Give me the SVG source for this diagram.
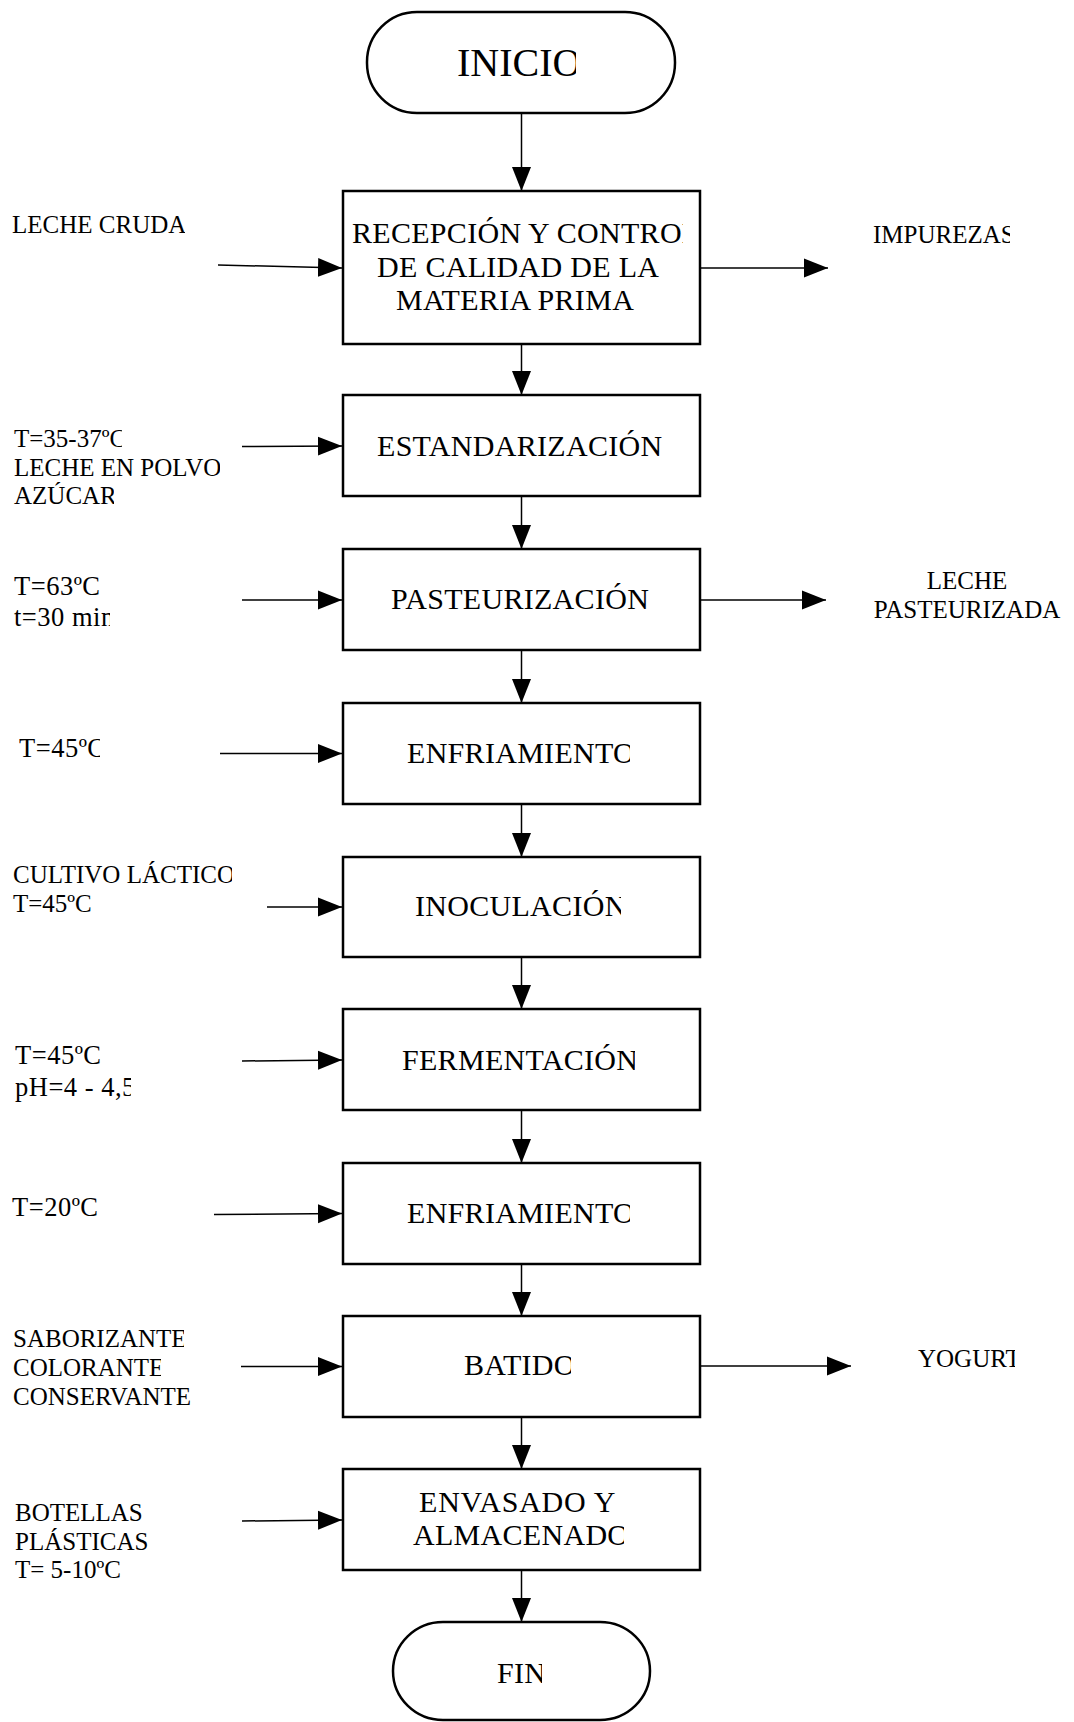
<svg xmlns="http://www.w3.org/2000/svg" width="1074" height="1722" viewBox="0 0 1074 1722">
<style>
.box{fill:#fff;stroke:#000;stroke-width:2.5}
.term{fill:#fff;stroke:#000;stroke-width:2.5}
.c{fill:none;stroke:#000;stroke-width:1.5;marker-end:url(#ah)}
.bt{font-family:"Liberation Serif","Times New Roman",serif;font-size:30px;letter-spacing:0.3px;fill:#000}
.lt{font-family:"Liberation Serif","Times New Roman",serif;font-size:25px;fill:#000}
.lg{font-family:"Liberation Serif","Times New Roman",serif;font-size:26.5px;letter-spacing:0.5px;fill:#000}
</style>
<defs>
<marker id="ah" markerUnits="userSpaceOnUse" markerWidth="24" markerHeight="20" refX="24" refY="10" orient="auto">
<path d="M0,0.5 L24,10 L0,19.5 z" fill="#000"/>
</marker>
<clipPath id="k1"><rect x="0" y="0" width="576" height="120"/></clipPath>
<clipPath id="k2"><rect x="343" y="191" width="340" height="60"/></clipPath>
<clipPath id="k3"><rect x="800" y="200" width="210" height="60"/></clipPath>
<clipPath id="k4"><rect x="0" y="200" width="185" height="50"/></clipPath>
<clipPath id="k5"><rect x="0" y="420" width="122" height="32"/></clipPath>
<clipPath id="k6"><rect x="0" y="452" width="220" height="30"/></clipPath>
<clipPath id="k7"><rect x="0" y="482" width="114" height="30"/></clipPath>
<clipPath id="k8"><rect x="0" y="605" width="110" height="30"/></clipPath>
<clipPath id="k9"><rect x="343" y="549" width="306" height="101"/></clipPath>
<clipPath id="k10"><rect x="0" y="730" width="100" height="40"/></clipPath>
<clipPath id="k11"><rect x="343" y="703" width="287" height="101"/></clipPath>
<clipPath id="k12"><rect x="0" y="860" width="232" height="30"/></clipPath>
<clipPath id="k13"><rect x="343" y="857" width="278" height="100"/></clipPath>
<clipPath id="k14"><rect x="0" y="1072" width="131" height="40"/></clipPath>
<clipPath id="k15"><rect x="343" y="1009" width="292" height="101"/></clipPath>
<clipPath id="k16"><rect x="343" y="1163" width="287" height="101"/></clipPath>
<clipPath id="k17"><rect x="0" y="1320" width="184" height="32"/></clipPath>
<clipPath id="k18"><rect x="0" y="1352" width="161" height="30"/></clipPath>
<clipPath id="k19"><rect x="0" y="1382" width="193" height="30"/></clipPath>
<clipPath id="k20"><rect x="343" y="1316" width="228" height="101"/></clipPath>
<clipPath id="k21"><rect x="850" y="1330" width="165" height="50"/></clipPath>
<clipPath id="k22"><rect x="343" y="1520" width="281" height="40"/></clipPath>
<clipPath id="k23"><rect x="380" y="1622" width="162" height="100"/></clipPath>
</defs>

<g id="connectors">
<line class="c" x1="521.5" y1="113" x2="521.5" y2="191"/>
<line class="c" x1="521.5" y1="336" x2="521.5" y2="395"/>
<line class="c" x1="521.5" y1="488" x2="521.5" y2="549"/>
<line class="c" x1="521.5" y1="642" x2="521.5" y2="703"/>
<line class="c" x1="521.5" y1="796" x2="521.5" y2="857"/>
<line class="c" x1="521.5" y1="949" x2="521.5" y2="1009"/>
<line class="c" x1="521.5" y1="1102" x2="521.5" y2="1163"/>
<line class="c" x1="521.5" y1="1256" x2="521.5" y2="1316"/>
<line class="c" x1="521.5" y1="1409" x2="521.5" y2="1469"/>
<line class="c" x1="521.5" y1="1562" x2="521.5" y2="1622"/>
<line class="c" x1="218" y1="265" x2="342" y2="268"/>
<line class="c" x1="242" y1="446.5" x2="342" y2="446"/>
<line class="c" x1="242" y1="600" x2="342" y2="600"/>
<line class="c" x1="220" y1="753.5" x2="342" y2="753.5"/>
<line class="c" x1="267" y1="907" x2="342" y2="907"/>
<line class="c" x1="242" y1="1061" x2="342" y2="1060"/>
<line class="c" x1="214" y1="1214.5" x2="342" y2="1213.5"/>
<line class="c" x1="241" y1="1366.5" x2="342" y2="1366.5"/>
<line class="c" x1="242" y1="1521" x2="342" y2="1520"/>
<line class="c" x1="701" y1="268" x2="828" y2="268"/>
<line class="c" x1="701" y1="600" x2="826" y2="600"/>
<line class="c" x1="701" y1="1366" x2="851" y2="1366"/>
</g>

<g id="inicio">
<rect class="term" x="367" y="12" width="308" height="101" rx="50" ry="50"/>
<text x="457" y="76" clip-path="url(#k1)" style="font-family:'Liberation Serif','Times New Roman',serif;font-size:40px">INICIO</text>
</g>

<g id="recepcion">
<rect class="box" x="343" y="191" width="357" height="153"/>
<text class="bt" x="352" y="243" clip-path="url(#k2)">RECEPCIÓN Y CONTROL</text>
<text class="bt" x="377" y="277">DE CALIDAD DE LA</text>
<text class="bt" x="396" y="310">MATERIA PRIMA</text>
</g>
<g id="leche-cruda"><text class="lt" x="12" y="233" clip-path="url(#k4)">LECHE CRUDA</text></g>
<g id="impurezas"><text class="lt" x="873" y="243" clip-path="url(#k3)">IMPUREZAS</text></g>

<g id="estandarizacion">
<rect class="box" x="343" y="395" width="357" height="101"/>
<text class="bt" x="377" y="456">ESTANDARIZACIÓN</text>
</g>
<g id="in-estandarizacion">
<text class="lt" x="14" y="447" clip-path="url(#k5)">T=35-37ºC</text>
<text class="lt" x="14" y="476" clip-path="url(#k6)">LECHE EN POLVO</text>
<text class="lt" x="14" y="504" clip-path="url(#k7)">AZÚCAR</text>
</g>

<g id="pasteurizacion">
<rect class="box" x="343" y="549" width="357" height="101"/>
<text class="bt" x="391" y="609" clip-path="url(#k9)">PASTEURIZACIÓN</text>
</g>
<g id="in-pasteurizacion">
<text class="lg" x="14" y="595">T=63ºC</text>
<text class="lg" x="14" y="626" clip-path="url(#k8)">t=30 min</text>
</g>
<g id="leche-pasteurizada">
<text class="lt" x="967" y="589" text-anchor="middle">LECHE</text>
<text class="lt" x="967" y="618" text-anchor="middle">PASTEURIZADA</text>
</g>

<g id="enfriamiento1">
<rect class="box" x="343" y="703" width="357" height="101"/>
<text class="bt" x="407" y="763" clip-path="url(#k11)">ENFRIAMIENTO</text>
</g>
<g id="in-enfriamiento1"><text class="lg" x="19" y="757" clip-path="url(#k10)">T=45ºC</text></g>

<g id="inoculacion">
<rect class="box" x="343" y="857" width="357" height="100"/>
<text class="bt" x="415" y="916" clip-path="url(#k13)">INOCULACIÓN</text>
</g>
<g id="in-inoculacion">
<text class="lt" x="13" y="883" clip-path="url(#k12)">CULTIVO LÁCTICO</text>
<text class="lt" x="13" y="912">T=45ºC</text>
</g>

<g id="fermentacion">
<rect class="box" x="343" y="1009" width="357" height="101"/>
<text class="bt" x="402" y="1070" clip-path="url(#k15)">FERMENTACIÓN</text>
</g>
<g id="in-fermentacion">
<text class="lg" x="15" y="1064">T=45ºC</text>
<text class="lg" x="15" y="1096" clip-path="url(#k14)">pH=4 - 4,5</text>
</g>

<g id="enfriamiento2">
<rect class="box" x="343" y="1163" width="357" height="101"/>
<text class="bt" x="407" y="1223" clip-path="url(#k16)">ENFRIAMIENTO</text>
</g>
<g id="in-enfriamiento2"><text class="lg" x="12" y="1216">T=20ºC</text></g>

<g id="batido">
<rect class="box" x="343" y="1316" width="357" height="101"/>
<text class="bt" x="464" y="1375" clip-path="url(#k20)">BATIDO</text>
</g>
<g id="in-batido">
<text class="lt" x="13" y="1347" clip-path="url(#k17)">SABORIZANTE</text>
<text class="lt" x="13" y="1376" clip-path="url(#k18)">COLORANTE</text>
<text class="lt" x="13" y="1405" clip-path="url(#k19)">CONSERVANTE</text>
</g>
<g id="yogurt"><text class="lt" x="918" y="1367" clip-path="url(#k21)">YOGURT</text></g>

<g id="envasado">
<rect class="box" x="343" y="1469" width="357" height="101"/>
<text class="bt" x="419" y="1512" style="letter-spacing:0.8px">ENVASADO Y</text>
<text class="bt" x="413" y="1545" clip-path="url(#k22)">ALMACENADO</text>
</g>
<g id="in-envasado">
<text class="lt" x="15" y="1521">BOTELLAS</text>
<text class="lt" x="15" y="1550">PLÁSTICAS</text>
<text class="lt" x="15" y="1578">T= 5-10ºC</text>
</g>

<g id="fin">
<rect class="term" x="393" y="1622" width="257" height="98" rx="50" ry="49"/>
<text class="bt" x="497" y="1683" clip-path="url(#k23)">FIN</text>
</g>
</svg>
